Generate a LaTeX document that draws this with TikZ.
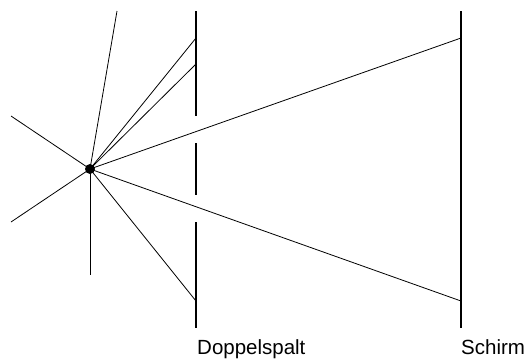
\documentclass[tikz,border=0pt]{standalone}
\usepackage{fontspec}
\setmainfont{Liberation Sans}
\tikzset{
  ray/.style={line width=0.8pt,black},
  wall/.style={line width=1.5pt,black},
  lbl/.style={anchor=base west,inner sep=0pt,font=\fontsize{20.5}{24}\selectfont}
}
\begin{document}
\begin{tikzpicture}[x=1pt,y=-1pt]
\useasboundingbox (0,0) rectangle (530,360);
\fill[white] (0,0) rectangle (530,360);
\coordinate (S) at (90,169);
\foreach \n/\x/\y in {a/117/11,b/196/38,c/196/64,d/461/38,e/461/301,f/196/301,g/90/275,h/11/222,i/11/116}{
  \coordinate (\n) at (\x,\y);
  \draw[ray] (S) -- (\n);
}
\coordinate (w1a) at (196,11); \coordinate (w1b) at (196,116);
\coordinate (w2a) at (196,143); \coordinate (w2b) at (196,195);
\coordinate (w3a) at (196,222); \coordinate (w3b) at (196,328);
\coordinate (s1) at (461,11); \coordinate (s2) at (461,328);
\draw[wall] (w1a) -- (w1b);
\draw[wall] (w2a) -- (w2b);
\draw[wall] (w3a) -- (w3b);
\draw[wall] (s1) -- (s2);
\node[circle,fill=black,inner sep=0pt,minimum size=10pt] (src) at (S) {};
\node[lbl] (dp) at (197,354) {Doppelspalt};
\node[lbl] (sc) at (461,354) {Schirm};
\end{tikzpicture}
\end{document}
